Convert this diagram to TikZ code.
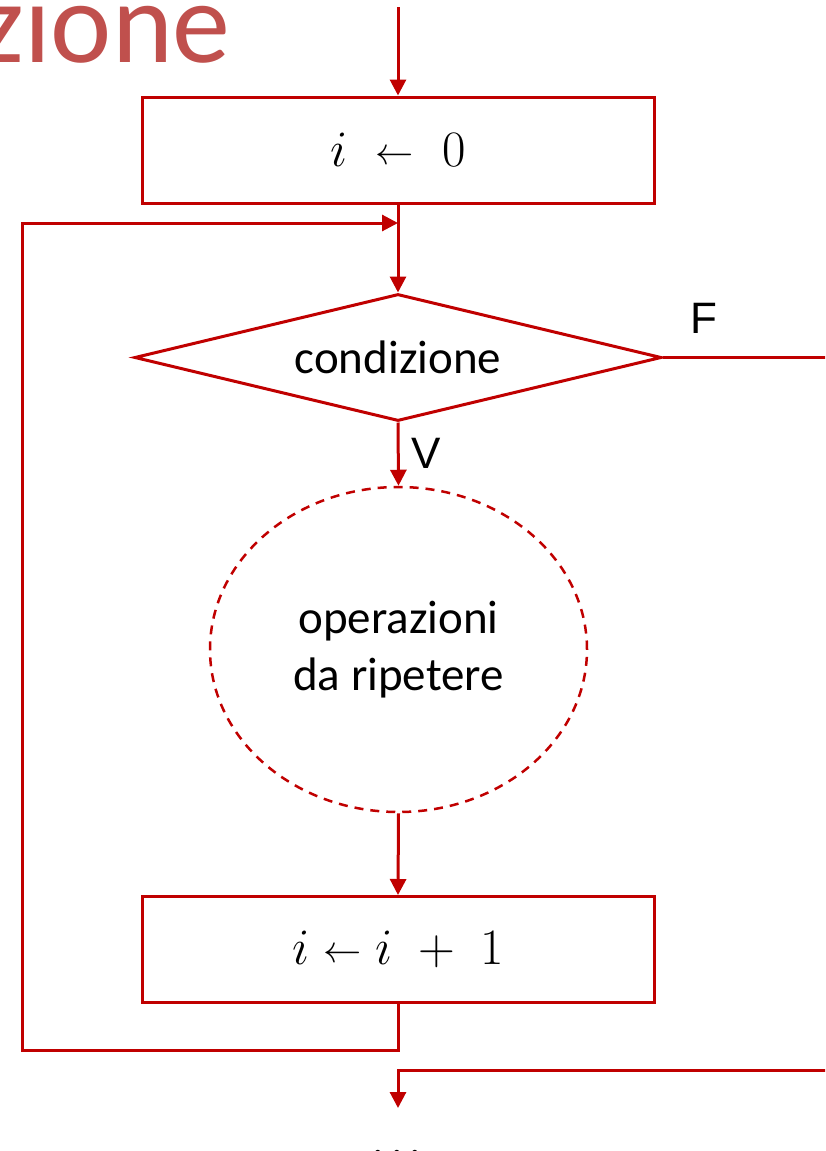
\documentclass[tikz,border=0pt]{standalone}
\usepackage[no-math]{fontspec}
\setmainfont{Carlito}
\newfontfamily\arialfont{Liberation Sans}
\usetikzlibrary{arrows.meta,shapes.geometric}
\definecolor{lred}{HTML}{C00000}
\definecolor{ttlred}{HTML}{C0504D}
\newcommand\mla{\mathrel{\raisebox{0.04em}{\scalebox{0.75}{$\leftarrow$}}}}
\newcommand\bigmath[1]{\scalebox{2.05}{\fontsize{24.88}{30}\selectfont$#1$}}
\begin{document}
\begin{tikzpicture}[x=1pt,y=-1pt,
  conn/.style={draw=lred, line width=3pt},
  arr/.style={conn, -{Triangle[length=16pt,width=16pt]}},
  procbox/.style={draw=lred, line width=3pt, rectangle, minimum width=512pt,
    minimum height=106pt, inner sep=0pt},
  decision/.style={draw=lred, line width=3pt, diamond, aspect=4, minimum width=527pt,
    minimum height=127pt, inner sep=0pt, font=\fontsize{47}{56}\selectfont},
  cloud/.style={draw=lred, line width=2.5pt, dash pattern=on 9pt off 7pt, ellipse,
    minimum width=377pt, minimum height=325pt, inner sep=0pt, align=center,
    font=\fontsize{47}{57}\selectfont},
  lab/.style={font=\arialfont\fontsize{44}{50}\selectfont, anchor=base, inner sep=0pt}]
\useasboundingbox (0,0) rectangle (825,1151);
\clip (0,0) rectangle (825,1151);
% title fragment
\node[anchor=base east, text=ttlred, inner sep=0pt, font=\fontsize{116}{120}\selectfont] (title) at (231,62) {zione};
% nodes
\node[procbox] (b1) at (398,150) {\bigmath{i \;\mla\; 0}};
\node[decision] (cond) at (398,357.5) {condizione};
\node[cloud] (ops) at (398.5,649.5) {operazioni\\da ripetere};
\node[procbox] (b2) at (398,949.5) {\bigmath{i \mla i \;+\; 1}};
\node[lab] (flab) at (704,333) {F};
\node[lab] (vlab) at (426,468) {V};
\node[anchor=base, inner sep=0pt, font=\fontsize{46}{56}\selectfont] (dots) at (397,1155) {.\kern7pt.\kern7pt.};
% coordinates
\coordinate (start) at (398,7);
\coordinate (join) at (398,223);
\coordinate (lb) at (22,1050);
\coordinate (lt) at (22,223);
\coordinate (fout) at (826,357.5);
\coordinate (bin) at (826,1070);
\coordinate (bm) at (398,1070);
\coordinate (bend) at (398,1108);
% connectors
\draw[arr] (start) -- (b1.north);
\draw[arr] (b1.south) -- (cond.north);
\draw[arr] (b2.south) |- (lb) -- (lt) -- (join);
\draw[conn] (cond.east) -- (fout);
\draw[arr] (cond.south) -- (ops.north);
\draw[arr] (ops.south) -- (b2.north);
\draw[arr] (bin) -- (bm) -- (bend);
\end{tikzpicture}
\end{document}
